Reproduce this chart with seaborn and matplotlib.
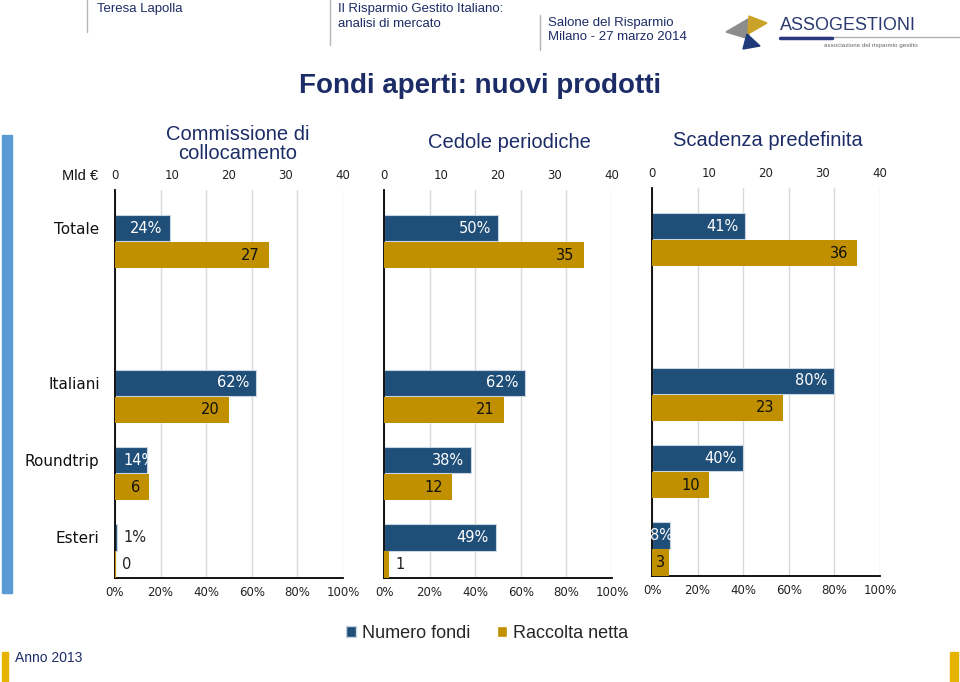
import seaborn as sns
import matplotlib.pyplot as plt
import numpy as np
from matplotlib.patches import Rectangle, Polygon, Patch
from matplotlib.lines import Line2D

# data
categories = ['Totale', 'Italiani', 'Roundtrip', 'Esteri']
panel_titles = ['Commissione di\ncollocamento', 'Cedole periodiche', 'Scadenza predefinita']
numero_fondi = [  # % of funds
    [24, 62, 14, 1],
    [50, 62, 38, 49],
    [41, 80, 40, 8],
]
raccolta_netta = [  # Mld euro
    [27, 20, 6, 0.2],
    [35, 21, 12, 0.9],
    [36, 23, 10, 3],
]
raccolta_labels = [
    ['27', '20', '6', '0'],
    ['35', '21', '12', '1'],
    ['36', '23', '10', '3'],
]
pct_ticks = [0, 20, 40, 60, 80, 100]
mld_ticks = [0, 10, 20, 30, 40]

BLUE = '#1f4e79'
GOLD = '#c09000'
NAVY = '#1c2c66'

sns.set_style('white')
plt.rcParams['font.family'] = ['DejaVu Sans']

fig = plt.figure(figsize=(9.6, 6.82), dpi=100)
W, H = 960, 682
renderer = fig.canvas.get_renderer()


def fx(px):
    return px / W


def fy(py):
    return 1 - py / H


# slot positions: empty row between Totale and Italiani
slots = np.array([0, 2, 3, 4], dtype=float)
off = 0.175
panel_left = [115, 384, 652]
panel_shift = [0, 0, -2]
PANEL_W = 228


def put_label(a, bar, val, xmax, y, txt, inside_color, pad):
    length = val / xmax * PANEL_W  # bar length in px
    kw = dict(va='center', fontsize=10.5, textcoords='offset pixels')
    if length < 8:
        a.annotate(txt, (val, y), xytext=(6, 0), ha='left', color='#222222', **kw)
    elif length < 25:
        a.annotate(txt, (val / 2, y), xytext=(0, 0), ha='center', color=inside_color, **kw)
    else:
        t = a.annotate(txt, (val, y), xytext=(-pad, 0), ha='right', color=inside_color, **kw)
        ext = t.get_window_extent(renderer)
        x0 = a.transData.transform((0, y))[0]
        if ext.x0 < x0 + 4:
            t.remove()
            t = a.annotate(txt, (0, y), xytext=(8, 0), ha='left', color=inside_color, **kw)
            t.set_clip_path(bar)


for i in range(3):
    top = 190 + panel_shift[i]
    bottom = 578 + panel_shift[i]
    ax = fig.add_axes([fx(panel_left[i]), fy(bottom), fx(PANEL_W), (bottom - top) / H])
    ax2 = ax.twiny()

    sns.barplot(x=numero_fondi[i], y=slots - off, orient='h', native_scale=True,
                width=0.34, color=BLUE, saturation=1, errorbar=None,
                edgecolor='#c8d4e0', linewidth=0.8, ax=ax)
    sns.barplot(x=raccolta_netta[i], y=slots + off, orient='h', native_scale=True,
                width=0.34, color=GOLD, saturation=1, errorbar=None,
                linewidth=0, ax=ax2)

    ax.set_xlim(0, 100)
    ax2.set_xlim(0, 40)
    for a in (ax, ax2):
        a.set_ylim(4.35, -0.67)
        a.set_xlabel('')
        a.set_ylabel('')

    ax.set_xticks(pct_ticks)
    ax.set_xticklabels([f'{t}%' for t in pct_ticks], fontsize=8.5, color='#222222')
    ax.tick_params(axis='x', length=0, pad=6)
    ax.grid(axis='x', color='#d9d9d9', linewidth=1)
    ax.set_axisbelow(True)

    ax2.set_xticks(mld_ticks)
    ax2.set_xticklabels([str(t) for t in mld_ticks], fontsize=8.5, color='#222222')
    ax2.tick_params(axis='x', length=0, pad=6)

    ax.set_yticks(slots - off)
    if i == 0:
        ax.set_yticklabels(categories, fontsize=11, color='#111111')
    else:
        ax.set_yticklabels([])
    ax.tick_params(axis='y', length=0, pad=11)
    ax2.tick_params(axis='y', length=0)

    for s in ['top', 'right']:
        ax.spines[s].set_visible(False)
    for s in ['left', 'bottom']:
        ax.spines[s].set_color('black')
        ax.spines[s].set_linewidth(1.3)
    for s in ax2.spines.values():
        s.set_visible(False)

    blue_bars = ax.containers[0]
    gold_bars = ax2.containers[0]
    for j, y in enumerate(slots):
        v = numero_fondi[i][j]
        put_label(ax, blue_bars[j], v, 100, y - off, f'{v}%', 'white', 7)
        g = raccolta_netta[i][j]
        put_label(ax2, gold_bars[j], g, 40, y + off, raccolta_labels[i][j], '#111111', 9)

# panel titles
fig.text(fx(238), fy(144), panel_titles[0], ha='center', va='center',
         fontsize=14.5, color=NAVY, family='Liberation Sans', linespacing=1.0)
fig.text(fx(509), fy(143), panel_titles[1], ha='center', va='center',
         fontsize=14.5, color=NAVY, family='Liberation Sans')
fig.text(fx(768), fy(141), panel_titles[2], ha='center', va='center',
         fontsize=14.5, color=NAVY, family='Liberation Sans')
fig.text(fx(98), fy(176), 'Mld €', ha='right', va='center', fontsize=10.5,
         color='#111111', family='Liberation Sans')

# main title
fig.text(fx(480), fy(86), 'Fondi aperti: nuovi prodotti', ha='center', va='center',
         fontsize=20, fontweight='bold', color=NAVY, family='Liberation Sans')

# legend
handles = [Patch(facecolor=BLUE, edgecolor='#c8d4e0', label='Numero fondi'),
           Patch(facecolor=GOLD, label='Raccolta netta')]
fig.legend(handles=handles, loc='center', bbox_to_anchor=(fx(487), fy(633)), ncol=2,
           frameon=False, handlelength=0.55, handleheight=0.55, handletextpad=0.3,
           columnspacing=1.5, prop={'family': 'Liberation Sans', 'size': 13})

# header
hdr = dict(fontsize=9.5, color=NAVY, family='Liberation Sans', va='center')
fig.text(fx(97), fy(9), 'Teresa Lapolla', **hdr)
fig.text(fx(338), fy(9), 'Il Risparmio Gestito Italiano:', **hdr)
fig.text(fx(338), fy(24), 'analisi di mercato', **hdr)
fig.text(fx(548), fy(23), 'Salone del Risparmio', **hdr)
fig.text(fx(548), fy(37), 'Milano - 27 marzo 2014', **hdr)
for x, y0, y1 in [(87, 0, 32), (330, 0, 45), (540, 15, 50)]:
    fig.add_artist(Line2D([fx(x), fx(x)], [fy(y0), fy(y1)], color='#b5b5b5', lw=1))

# logo
logo = [
    ([(726, 32), (748, 19), (749, 39)], '#8c8c8c'),
    ([(749, 16), (767, 23), (748, 34)], '#c9a227'),
    ([(747, 34), (760, 46), (743, 49)], '#1f3a7a'),
]
for pts, c in logo:
    fig.add_artist(Polygon([(fx(a), fy(b)) for a, b in pts], closed=True,
                           transform=fig.transFigure, color=c))
fig.text(fx(780), fy(25), 'ASSOGESTIONI', fontsize=13, color='#2a3a70',
         family='Liberation Sans', va='center')
fig.add_artist(Line2D([fx(780), fx(960)], [fy(37), fy(37)], color='#b0b0b0', lw=1))
fig.add_artist(Line2D([fx(780), fx(832)], [fy(38), fy(38)], color='#2a3a80', lw=2.5))
fig.text(fx(824), fy(46), 'associazione del risparmio gestito', fontsize=4.5,
         color='#666666', family='Liberation Sans', va='center')

# decorative bars
fig.add_artist(Rectangle((fx(2), fy(593)), fx(10), (593 - 135) / H,
                         transform=fig.transFigure, color='#5b9bd5'))
fig.add_artist(Rectangle((fx(2), fy(682)), fx(6), 30 / H,
                         transform=fig.transFigure, color='#e6b400'))
fig.add_artist(Rectangle((fx(950), fy(682)), fx(8), 30 / H,
                         transform=fig.transFigure, color='#e6b400'))
fig.text(fx(15), fy(658), 'Anno 2013', fontsize=10, color=NAVY,
         family='Liberation Sans', va='center')

fig.savefig('out.png', dpi=100)
plt.close(fig)
